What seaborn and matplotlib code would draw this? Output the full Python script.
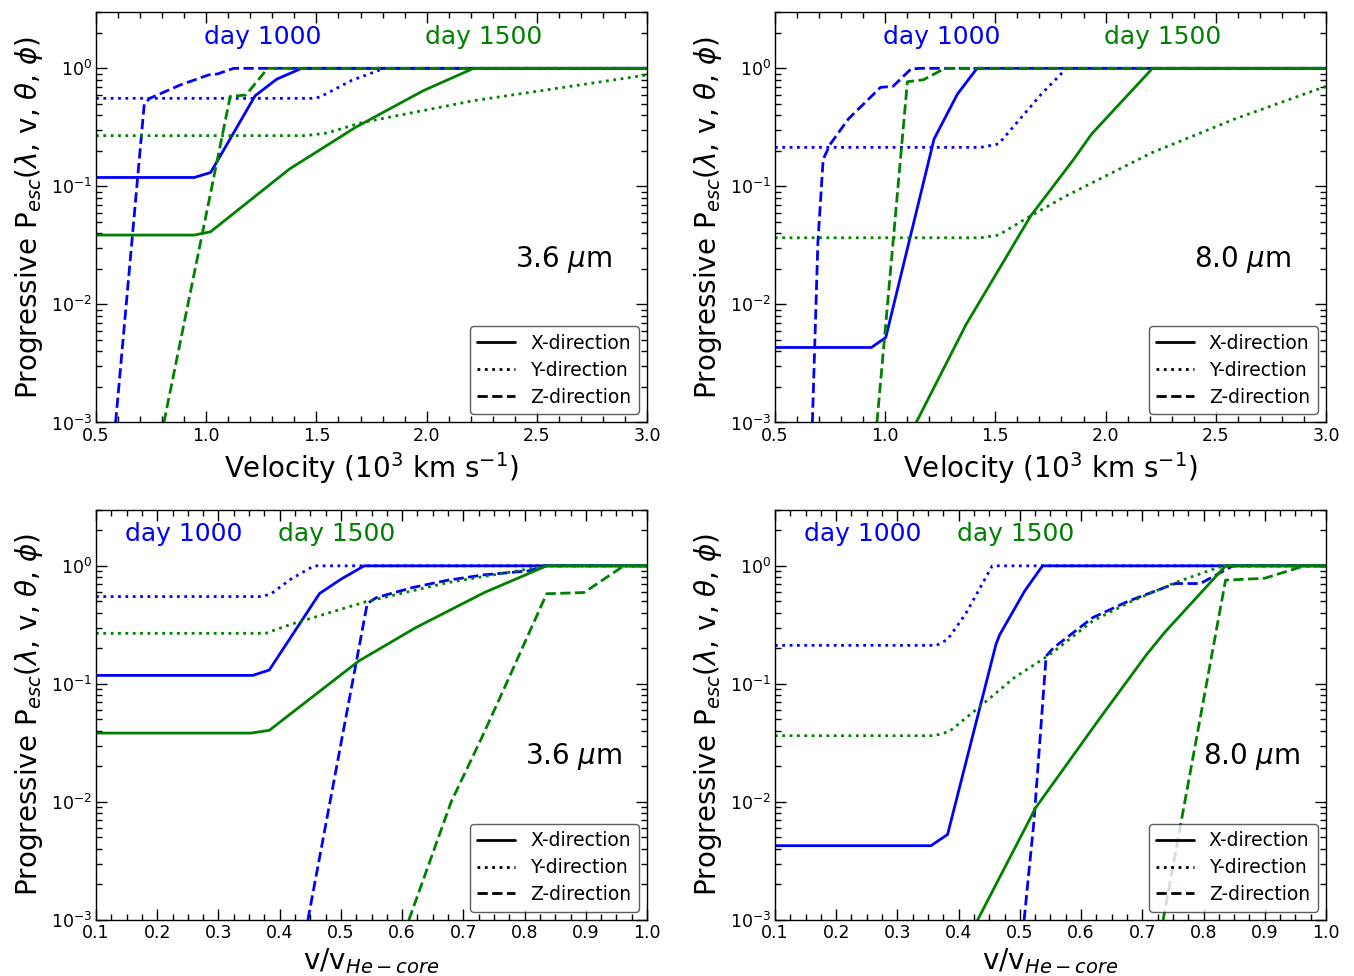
import numpy as np
import pandas as pd
import matplotlib
matplotlib.use("Agg")
import matplotlib.pyplot as plt
import matplotlib.ticker as mticker
import seaborn as sns

# --- top row: velocity (10^3 km/s) ---
# 3.6 micron
vel36_d1000_X = [0.5, 0.946, 1.02, 1.222, 1.32, 1.433, 3.0]
pesc36_d1000_X = [0.119, 0.119, 0.131, 0.586, 0.81, 1.0, 1.0]
vel36_d1000_Y = [0.5, 1.48, 1.515, 1.66, 1.807, 3.0]
pesc36_d1000_Y = [0.557, 0.557, 0.57, 0.79, 1.0, 1.0]
vel36_d1000_Z = [0.589, 0.719, 0.744, 0.88, 1.011, 1.05, 1.125, 3.0]
pesc36_d1000_Z = [1e-3, 0.50, 0.557, 0.72, 0.88, 0.895, 1.0, 1.0]
vel36_d1500_X = [0.5, 0.946, 1.02, 1.377, 1.677, 1.985, 2.213, 3.0]
pesc36_d1500_X = [0.0387, 0.0387, 0.0413, 0.140, 0.316, 0.647, 1.0, 1.0]
vel36_d1500_Y = [0.5, 1.45, 1.547, 1.709, 2.213, 3.0]
pesc36_d1500_Y = [0.269, 0.269, 0.283, 0.348, 0.532, 0.878]
vel36_d1500_Z = [0.808, 1.109, 1.18, 1.279, 3.0]
pesc36_d1500_Z = [1e-3, 0.579, 0.594, 1.0, 1.0]

# 8.0 micron
vel80_d1000_X = [0.5, 0.938, 1.003, 1.222, 1.328, 1.417, 3.0]
pesc80_d1000_X = [0.00432, 0.00432, 0.00525, 0.252, 0.605, 1.0, 1.0]
vel80_d1000_Y = [0.5, 1.433, 1.515, 1.709, 1.823, 3.0]
pesc80_d1000_Y = [0.214, 0.214, 0.229, 0.606, 1.0, 1.0]
vel80_d1000_Z = [0.67, 0.695, 0.719, 0.752, 0.833, 0.979, 1.036, 1.117, 1.157, 3.0]
pesc80_d1000_Z = [1e-3, 0.0335, 0.17, 0.229, 0.372, 0.69, 0.704, 0.987, 1.0, 1.0]
vel80_d1500_X = [1.141, 1.368, 1.661, 1.856, 1.937, 2.213, 3.0]
pesc80_d1500_X = [1e-3, 0.0068, 0.0564, 0.170, 0.278, 1.0, 1.0]
vel80_d1500_Y = [0.5, 1.433, 1.515, 1.661, 1.823, 2.213, 2.586, 3.0]
pesc80_d1500_Y = [0.0367, 0.0367, 0.0387, 0.0564, 0.0834, 0.194, 0.372, 0.704]
vel80_d1500_Z = [0.963, 1.101, 1.174, 1.271, 3.0]
pesc80_d1500_Z = [1e-3, 0.77, 0.80, 1.0, 1.0]

# --- bottom row: v / v_He-core ---
vn36_d1000_X = [0.1, 0.356, 0.383, 0.465, 0.5, 0.538, 1.0]
pn36_d1000_X = [0.118, 0.118, 0.131, 0.582, 0.77, 1.0, 1.0]
vn36_d1000_Y = [0.1, 0.371, 0.386, 0.418, 0.456, 1.0]
pn36_d1000_Y = [0.549, 0.549, 0.58, 0.77, 1.0, 1.0]
vn36_d1000_Z = [0.446, 0.543, 0.558, 0.617, 0.675, 0.734, 0.807, 0.833, 1.0]
pn36_d1000_Z = [1e-3, 0.479, 0.538, 0.655, 0.756, 0.839, 0.907, 1.0, 1.0]
vn36_d1500_X = [0.1, 0.353, 0.383, 0.529, 0.622, 0.734, 0.836, 1.0]
pn36_d1500_X = [0.0383, 0.0383, 0.0404, 0.156, 0.299, 0.593, 1.0, 1.0]
vn36_d1500_Y = [0.1, 0.377, 0.418, 0.541, 0.675, 0.821, 0.839, 1.0]
pn36_d1500_Y = [0.268, 0.268, 0.319, 0.497, 0.722, 0.968, 1.0, 1.0]
vn36_d1500_Z = [0.611, 0.68, 0.73, 0.77, 0.836, 0.897, 0.962, 1.0]
pn36_d1500_Z = [1e-3, 0.01, 0.035, 0.1, 0.58, 0.594, 1.0, 1.0]

vn80_d1000_X = [0.1, 0.355, 0.382, 0.461, 0.467, 0.508, 0.537, 1.0]
pn80_d1000_X = [0.00426, 0.00426, 0.0053, 0.216, 0.26, 0.613, 1.0, 1.0]
vn80_d1000_Y = [0.1, 0.364, 0.382, 0.411, 0.455, 1.0]
pn80_d1000_Y = [0.212, 0.212, 0.238, 0.388, 1.0, 1.0]
vn80_d1000_Z = [0.507, 0.523, 0.543, 0.555, 0.619, 0.678, 0.754, 0.795, 0.833, 0.848, 1.0]
pn80_d1000_Z = [1e-3, 0.0068, 0.172, 0.202, 0.364, 0.504, 0.708, 0.708, 0.907, 1.0, 1.0]
vn80_d1500_X = [0.431, 0.517, 0.525, 0.631, 0.707, 0.736, 0.836, 1.0]
pn80_d1500_X = [1e-3, 0.00726, 0.0088, 0.0514, 0.177, 0.271, 1.0, 1.0]
vn80_d1500_Y = [0.1, 0.361, 0.385, 0.432, 0.49, 0.549, 0.619, 0.678, 0.754, 0.824, 0.836, 1.0]
pn80_d1500_Y = [0.0364, 0.0364, 0.0396, 0.0625, 0.112, 0.177, 0.341, 0.488, 0.722, 0.968, 1.0, 1.0]
vn80_d1500_Z = [0.734, 0.836, 0.9, 0.965, 1.0]
pn80_d1500_Z = [1e-3, 0.756, 0.785, 1.0, 1.0]

DIRECTIONS = ['X-direction', 'Y-direction', 'Z-direction']
STYLES = {'X-direction': '-', 'Y-direction': ':', 'Z-direction': '--'}
DAY_COLORS = {'day 1000': 'blue', 'day 1500': 'green'}

panels = [
    # (lines, wavelength label, kind of x axis)
    ({('day 1000', 'X-direction'): (vel36_d1000_X, pesc36_d1000_X),
      ('day 1000', 'Y-direction'): (vel36_d1000_Y, pesc36_d1000_Y),
      ('day 1000', 'Z-direction'): (vel36_d1000_Z, pesc36_d1000_Z),
      ('day 1500', 'X-direction'): (vel36_d1500_X, pesc36_d1500_X),
      ('day 1500', 'Y-direction'): (vel36_d1500_Y, pesc36_d1500_Y),
      ('day 1500', 'Z-direction'): (vel36_d1500_Z, pesc36_d1500_Z)},
     r'3.6 $\mu$m', 'vel'),
    ({('day 1000', 'X-direction'): (vel80_d1000_X, pesc80_d1000_X),
      ('day 1000', 'Y-direction'): (vel80_d1000_Y, pesc80_d1000_Y),
      ('day 1000', 'Z-direction'): (vel80_d1000_Z, pesc80_d1000_Z),
      ('day 1500', 'X-direction'): (vel80_d1500_X, pesc80_d1500_X),
      ('day 1500', 'Y-direction'): (vel80_d1500_Y, pesc80_d1500_Y),
      ('day 1500', 'Z-direction'): (vel80_d1500_Z, pesc80_d1500_Z)},
     r'8.0 $\mu$m', 'vel'),
    ({('day 1000', 'X-direction'): (vn36_d1000_X, pn36_d1000_X),
      ('day 1000', 'Y-direction'): (vn36_d1000_Y, pn36_d1000_Y),
      ('day 1000', 'Z-direction'): (vn36_d1000_Z, pn36_d1000_Z),
      ('day 1500', 'X-direction'): (vn36_d1500_X, pn36_d1500_X),
      ('day 1500', 'Y-direction'): (vn36_d1500_Y, pn36_d1500_Y),
      ('day 1500', 'Z-direction'): (vn36_d1500_Z, pn36_d1500_Z)},
     r'3.6 $\mu$m', 'norm'),
    ({('day 1000', 'X-direction'): (vn80_d1000_X, pn80_d1000_X),
      ('day 1000', 'Y-direction'): (vn80_d1000_Y, pn80_d1000_Y),
      ('day 1000', 'Z-direction'): (vn80_d1000_Z, pn80_d1000_Z),
      ('day 1500', 'X-direction'): (vn80_d1500_X, pn80_d1500_X),
      ('day 1500', 'Y-direction'): (vn80_d1500_Y, pn80_d1500_Y),
      ('day 1500', 'Z-direction'): (vn80_d1500_Z, pn80_d1500_Z)},
     r'8.0 $\mu$m', 'norm'),
]

sns.set_style('ticks')
plt.rcParams['font.family'] = ['DejaVu Sans']
plt.rcParams['mathtext.fontset'] = 'dejavusans'
for key in ['text.color', 'axes.labelcolor', 'xtick.color', 'ytick.color', 'axes.edgecolor']:
    plt.rcParams[key] = 'black'

fig, axs = plt.subplots(2, 2, figsize=(13.54, 9.76), dpi=100)
fig.subplots_adjust(left=0.0709, right=0.9793, top=0.9877, bottom=0.0574,
                    wspace=0.232, hspace=0.212)

for ax, (lines, wave, kind) in zip(axs.flatten(), panels):
    rows = []
    for (day, direc), (xs, ys) in lines.items():
        for xv, yv in zip(xs, ys):
            rows.append({'x': xv, 'p': yv, 'day': day, 'dir': direc})
    df = pd.DataFrame(rows)
    for (day, direc), sub in df.groupby(['day', 'dir'], sort=False):
        sns.lineplot(data=sub, x='x', y='p', ax=ax, color=DAY_COLORS[day],
                     linestyle=STYLES[direc], linewidth=2, estimator=None,
                     sort=False, legend=False)

    ax.set_yscale('log')
    ax.set_ylim(1e-3, 3)
    if kind == 'vel':
        ax.set_xlim(0.5, 3.0)
        ax.xaxis.set_major_locator(mticker.MultipleLocator(0.5))
        ax.xaxis.set_minor_locator(mticker.MultipleLocator(0.1))
        ax.set_xlabel(r'Velocity (10$^3$ km s$^{-1}$)', fontsize=20, labelpad=4)
        ax.text(0.303, 0.94, 'day 1000', color='blue', transform=ax.transAxes,
                ha='center', va='center', fontsize=18)
        ax.text(0.704, 0.94, 'day 1500', color='green', transform=ax.transAxes,
                ha='center', va='center', fontsize=18)
        ax.text(0.848, 0.397, wave, transform=ax.transAxes,
                ha='center', va='center', fontsize=20)
    else:
        ax.set_xlim(0.1, 1.0)
        ax.xaxis.set_major_locator(mticker.MultipleLocator(0.1))
        ax.xaxis.set_minor_locator(mticker.MultipleLocator(0.025))
        ax.set_xlabel(r'v/v$_{He-core}$', fontsize=20, labelpad=3)
        ax.text(0.16, 0.94, 'day 1000', color='blue', transform=ax.transAxes,
                ha='center', va='center', fontsize=18)
        ax.text(0.437, 0.94, 'day 1500', color='green', transform=ax.transAxes,
                ha='center', va='center', fontsize=18)
        ax.text(0.866, 0.398, wave, transform=ax.transAxes,
                ha='center', va='center', fontsize=20)
    ax.set_ylabel(r'Progressive P$_{esc}$($\lambda$, v, $\theta$, $\phi$)', fontsize=20)

    ax.tick_params(which='both', direction='in', top=True, right=True,
                   labelsize=12.5, pad=3)
    ax.tick_params(which='major', length=8, width=1)
    ax.tick_params(which='minor', length=4, width=1)
    for sp in ax.spines.values():
        sp.set_linewidth(1)
        sp.set_color('black')

    handles = [plt.Line2D([], [], color='black', linestyle=STYLES[d], linewidth=2)
               for d in DIRECTIONS]
    leg = ax.legend(handles, DIRECTIONS, loc='lower right', fontsize=13.5,
                    frameon=True, fancybox=True, framealpha=0.8,
                    labelspacing=0.42, borderaxespad=0.45)
    leg.get_frame().set_edgecolor('0.2')

fig.savefig('out.png', dpi=100)
